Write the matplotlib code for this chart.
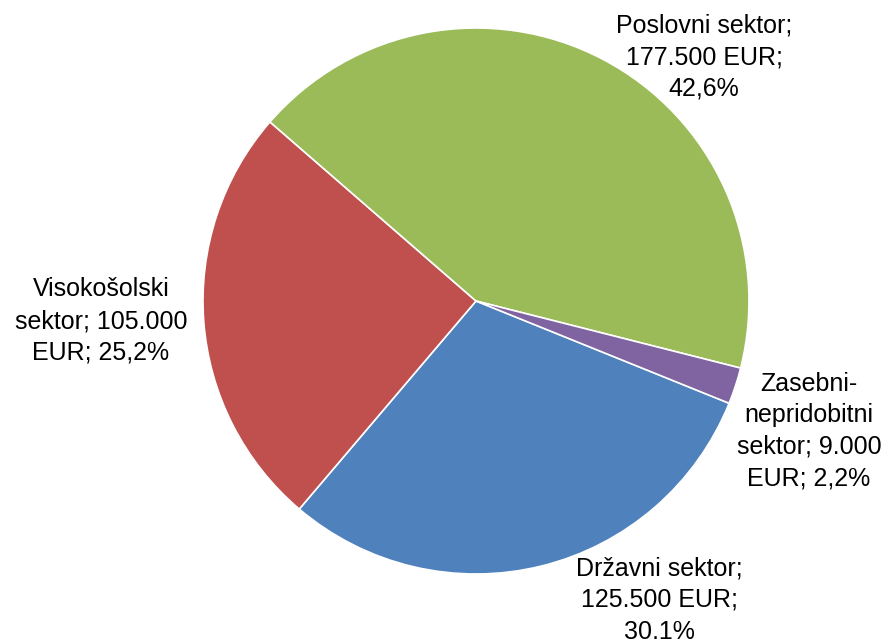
import matplotlib
matplotlib.use("Agg")
import matplotlib.pyplot as plt

plt.rcParams['font.family'] = ['Liberation Sans', 'DejaVu Sans']

# data
sectors = ["Državni sektor", "Visokošolski sektor", "Poslovni sektor", "Zasebni-nepridobitni sektor"]
amounts = [125500, 105000, 177500, 9000]
shares = ["30,1%", "25,2%", "42,6%", "2,2%"]
colors = ["#4F81BD", "#C0504D", "#9BBB59", "#8064A2"]

labels = [
    "Državni sektor;\n125.500 EUR;\n30,1%",
    "Visokošolski\nsektor; 105.000\nEUR; 25,2%",
    "Poslovni sektor;\n177.500 EUR;\n42,6%",
    "Zasebni-\nnepridobitni\nsektor; 9.000\nEUR; 2,2%",
]
# label centres in pixel coords (x, y from top)
label_pos = [(659, 600), (101, 321), (704, 57), (809, 431)]

W, H = 891, 639
fig = plt.figure(figsize=(W / 100, H / 100), dpi=100)
ax = fig.add_axes([0, 0, 1, 1])

ax.pie(amounts, colors=colors, startangle=-22, counterclock=False,
       center=(476, H - 301), radius=273, frame=True,
       wedgeprops=dict(edgecolor='white', linewidth=1.2))
ax.set_xlim(0, W)
ax.set_ylim(0, H)
ax.set_aspect('equal')
ax.axis('off')

for txt, (x, y) in zip(labels, label_pos):
    ax.text(x, H - y, txt, ha='center', va='center', fontsize=18,
            linespacing=1.4, color='black')

fig.savefig("out.png", dpi=100)
